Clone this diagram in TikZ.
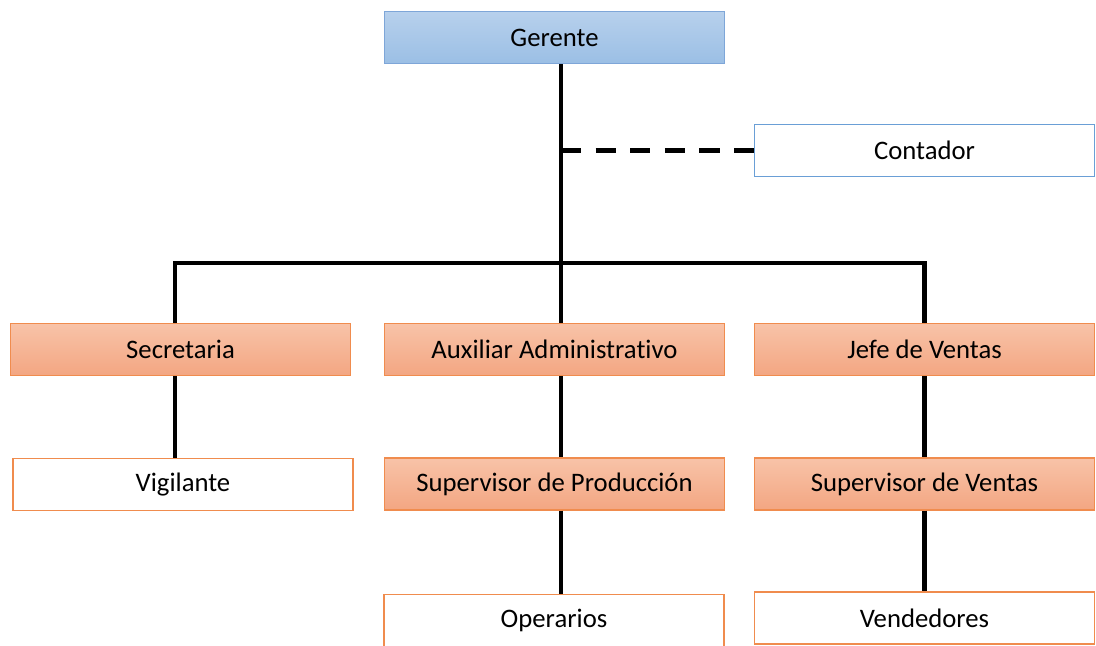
\documentclass[tikz,border=0pt]{standalone}
\usepackage{fontspec}
\setmainfont{Carlito}[Ligatures=NoCommon]
\usetikzlibrary{positioning}

\definecolor{headtop}{HTML}{B7D0EC}
\definecolor{headbot}{HTML}{9BBFE5}
\definecolor{headline}{HTML}{7EA6D8}
\definecolor{roletop}{HTML}{F8C3A8}
\definecolor{rolebot}{HTML}{F3A682}
\definecolor{roleline}{HTML}{F08C4E}
\definecolor{advline}{HTML}{6A9FD6}

\begin{document}
\begin{tikzpicture}[x=0.02cm, y=-0.02cm,
  post/.style={draw, line width=0.7pt, minimum width=6.8cm, minimum height=1.04cm,
    inner sep=0pt, align=center, font=\fontsize{15.2}{18}\selectfont},
  head/.style={post, draw=headline, top color=headtop, bottom color=headbot},
  role/.style={post, draw=roleline, top color=roletop, bottom color=rolebot},
  staff/.style={post, draw=roleline, fill=white},
  advisor/.style={post, draw=advline, fill=white},
  link/.style={line width=2.3pt}
]
\clip (0,0) rectangle (1096,646);

\node[head] (gerente) at (554.5,37.5) {Gerente};
\node[advisor] (contador) at (924.5,150.5) {Contador};

\node[role] (secretaria) at (180.5,349.5) {Secretaria};
\node[role] (auxiliar) at (554.5,349.5) {Auxiliar Administrativo};
\node[role] (jefe) at (924.5,349.5) {Jefe de Ventas};

\node[staff] (vigilante) at (183,484.5) {Vigilante};
\node[role] (supprod) at (554.5,484) {Supervisor de Producción};
\node[role] (supventas) at (924.5,484) {Supervisor de Ventas};

\node[staff] (operarios) at (554,620.5) {Operarios};
\node[staff] (vendedores) at (924.5,618) {Vendedores};

\coordinate (spine) at (561,263);
\coordinate (leftx) at (175,263);

% main trunk and branches
\draw[link] (gerente.south -| spine) -- (auxiliar.north -| spine);
\draw[link, dash pattern=on 11.5pt off 8.2pt] (contador.west -| spine) -- (contador.west);
\draw[link] (secretaria.north -| leftx) |- (spine) -| (jefe.north);

% lower levels
\draw[link] (secretaria.south -| leftx) -- (vigilante.north -| leftx);
\draw[link] (auxiliar.south -| spine) -- (supprod.north -| spine);
\draw[link] (supprod.south -| spine) -- (operarios.north -| spine);
\draw[link] (jefe.south) -- (supventas.north);
\draw[link] (supventas.south) -- (vendedores.north);
\end{tikzpicture}
\end{document}
